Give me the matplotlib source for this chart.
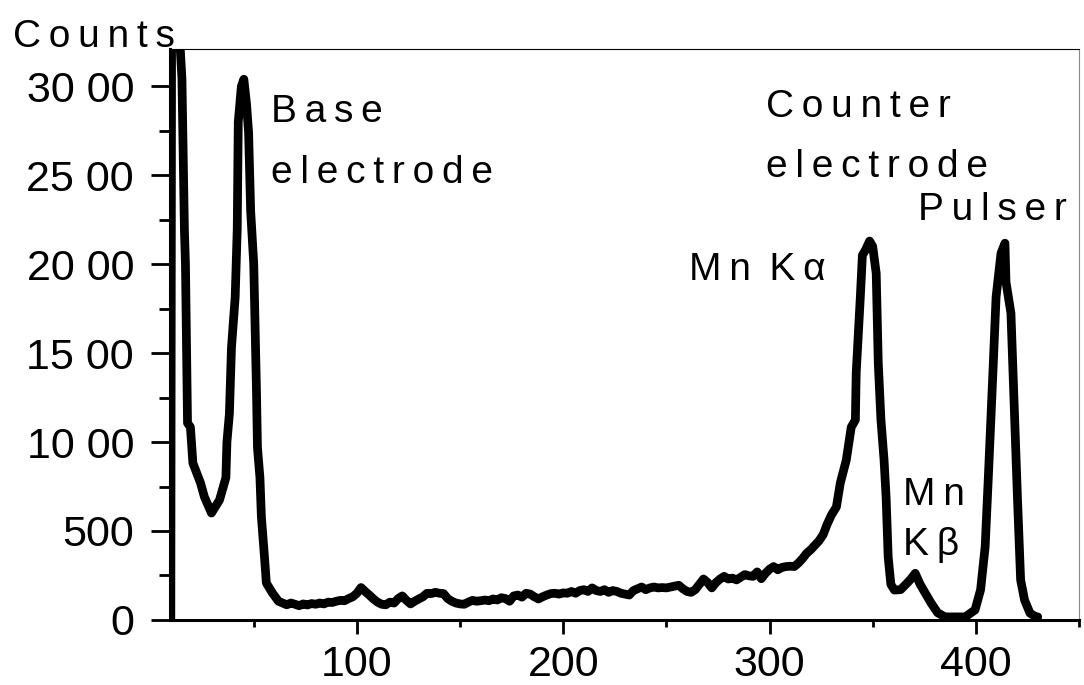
import numpy as np
import matplotlib.pyplot as plt
from matplotlib.ticker import MultipleLocator

plt.rcParams['font.family'] = ['Liberation Sans', 'DejaVu Sans']

# pulse height spectrum, channel number vs counts
# base electrode peak
ch_base = [9.8, 10.2, 13.0, 15.2, 16.4, 16.9, 17.9, 19.3, 20.5, 24.2, 26.1, 29.5,
           33.4, 36.5, 37.0, 38.2, 39.2, 41.0, 42.0, 42.5, 44.0, 45.2, 46.5, 47.5,
           48.5, 50.0, 51.3, 51.8, 53.0, 53.7, 55.2, 56.1, 59.0, 62.0]
cnt_base = [0, 3500, 3500, 3040, 2190, 2000, 1107, 1084, 882, 770, 691, 601,
            674, 800, 1000, 1160, 1530, 1815, 2200, 2800, 3000, 3040, 2900, 2740,
            2300, 2000, 1300, 970, 800, 580, 354, 208, 152, 105]

# flat background between the peaks
ch_flat = [64, 66, 68, 70, 72, 74, 76, 78, 80, 82, 84, 86, 88, 90, 92, 94, 96, 98,
           100, 102, 104, 106, 108, 110, 112, 114, 116, 118, 120, 122, 124, 126,
           128, 130, 132, 134, 136, 138, 140, 142, 144, 146, 148, 150, 152, 154,
           156, 158, 160, 162, 164, 166, 168, 170, 172, 174, 176, 178, 180, 182,
           184, 186, 188, 190, 192, 194, 196, 198, 200, 202, 204, 206, 208, 210,
           212, 214, 216, 218, 220, 222, 224, 226, 228, 230, 232, 234, 236, 238,
           240, 242, 244, 246, 248, 250, 252, 254, 256, 258, 260, 262, 264, 266,
           268, 270, 272, 274, 276, 278, 280, 282, 284, 286, 288, 290, 292, 294,
           296, 298, 300, 302, 304, 306, 308, 310, 312, 314, 316, 318, 320, 322,
           324, 326, 328, 330]
cnt_flat = [95, 85, 95, 88, 80, 90, 84, 92, 88, 95, 90, 100, 98, 105, 110, 108, 120, 130,
            150, 182, 160, 140, 118, 100, 88, 85, 100, 95, 120, 135, 110, 90,
            105, 118, 130, 150, 148, 155, 150, 148, 120, 105, 95, 90, 88, 100,
            110, 105, 108, 112, 108, 118, 112, 125, 120, 105, 135, 140, 128, 150,
            145, 130, 118, 130, 140, 148, 150, 145, 152, 150, 160, 150, 165, 170,
            160, 180, 165, 160, 170, 155, 165, 160, 150, 145, 140, 165, 175, 185,
            170, 180, 185, 180, 182, 180, 185, 190, 195, 175, 160, 155, 170, 200,
            230, 210, 180, 210, 230, 245, 230, 235, 225, 240, 255, 248, 245, 270,
            232, 262, 285, 300, 282, 295, 300, 302, 300, 320, 345, 375, 395, 420,
            445, 480, 540, 590]

# Mn K-alpha, K-beta and pulser peaks
ch_peaks = [332.4, 334.3, 337.2, 339.6, 341.6, 342.0, 344.0, 345.0, 346.5, 348.5,
            350.0, 351.7, 352.7, 354.0, 355.5, 356.5, 357.5, 358.8, 360.5, 363.5,
            366.5, 368.5, 370.6, 373.0, 375.5, 378.3, 381.5, 385.1, 394.8, 399.6,
            402.3, 404.5, 406.0, 408.3, 409.8, 412.2, 414.1, 414.6, 417.0, 418.7,
            420.2, 421.7, 423.6, 426.2, 428.6, 430.0]
cnt_peaks = [635, 770, 899, 1084, 1124, 1388, 1815, 2050, 2080, 2130,
             2100, 1949, 1444, 1124, 900, 690, 354, 200, 168, 170,
             205, 230, 262, 200, 150, 95, 40, 17, 17, 56,
             170, 410, 790, 1400, 1815, 2062, 2118, 1900, 1725, 1160,
             674, 225, 112, 39, 20, 17]

channel = ch_base + ch_flat + ch_peaks
counts = cnt_base + cnt_flat + cnt_peaks

# peak labels: text, x position, baseline y
peak_text = ["Base", "electrode", "Counter", "electrode", "Pulser", "Mn Kα", "Mn", "Kβ"]
peak_x = [58.5, 58.5, 298.5, 298.5, 372.0, 260.8, 364.8, 364.8]
peak_y = [2798, 2455, 2830, 2490, 2247, 1910, 646, 365]

yticks = [0, 500, 1000, 1500, 2000, 2500, 3000]
ytick_labels = ["0", "500", "10 00", "15 00", "20 00", "25 00", "30 00"]
xticks = [100, 200, 300, 400]
xtick_labels = ["100", "200", "300", "400"]


def spaced(s):
    # widen letter spacing with thin spaces, word gaps get an extra space
    return "\u2009 ".join("\u2009".join(w) for w in s.split(" "))


fig = plt.figure(figsize=(10.84, 6.85), dpi=100)
ax = fig.add_axes([0.157, 0.095, 0.8384, 0.8335])

ax.plot(channel, counts, color="black", lw=6.3, solid_joinstyle="round",
        solid_capstyle="round")

ax.set_xlim(9.5, 450)
ax.set_ylim(0, 3210)

ax.set_yticks(yticks)
ax.set_yticklabels(ytick_labels)
ax.set_xticks(xticks)
ax.set_xticklabels(xtick_labels)
ax.yaxis.set_minor_locator(MultipleLocator(250))
ax.xaxis.set_minor_locator(MultipleLocator(50))

ax.tick_params(axis="y", which="major", length=14, width=2, labelsize=31, pad=12)
ax.tick_params(axis="y", which="minor", length=8, width=2)
ax.tick_params(axis="x", which="major", length=10, width=2, labelsize=31, pad=8)
ax.tick_params(axis="x", which="minor", length=5, width=2)

ax.spines["bottom"].set_linewidth(2.2)
ax.spines["left"].set_linewidth(2.2)
ax.spines["top"].set_linewidth(0.8)
ax.spines["right"].set_linewidth(0.8)
ax.spines["right"].set_color("#888888")

for t, x, y in zip(peak_text, peak_x, peak_y):
    ax.text(x, y, spaced(t), fontsize=28, ha="left", va="baseline")

fig.text(13 / 1084, 1 - 47 / 685, spaced("Counts"), fontsize=28,
         ha="left", va="baseline")

plt.savefig("out.png", dpi=100)
